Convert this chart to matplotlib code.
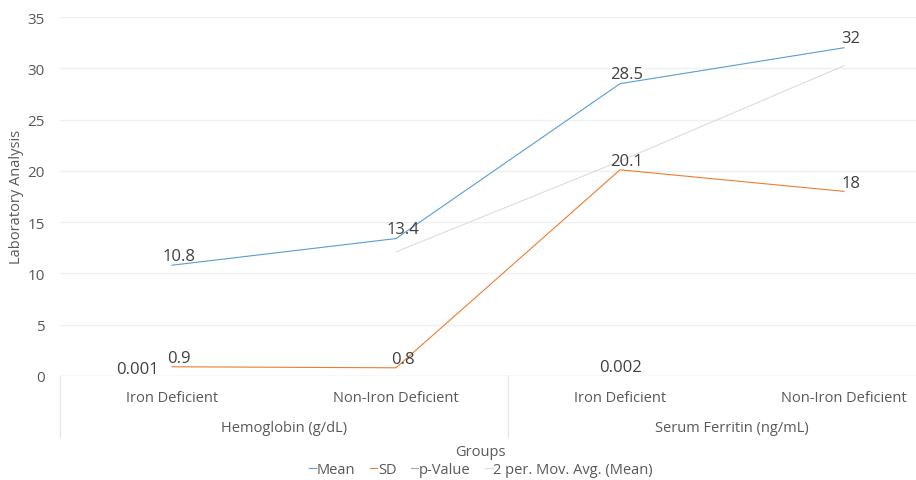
import matplotlib
matplotlib.use("Agg")
import matplotlib.pyplot as plt
import matplotlib.transforms as mtransforms
import numpy as np

plt.rcParams['font.family'] = ['Open Sans', 'DejaVu Sans']

categories = ["Iron Deficient", "Non-Iron Deficient", "Iron Deficient", "Non-Iron Deficient"]
groups = ["Hemoglobin (g/dL)", "Serum Ferritin (ng/mL)"]
mean = [10.8, 13.4, 28.5, 32]
sd = [0.9, 0.8, 20.1, 18]
pval = [0.001, np.nan, 0.002, np.nan]
yticks = [0, 5, 10, 15, 20, 25, 30, 35]

# 2-period moving average of Mean
mov_avg = [np.nan] + [(mean[i - 1] + mean[i]) / 2 for i in range(1, len(mean))]

W, H = 916, 481
fig = plt.figure(figsize=(W / 100, H / 100), dpi=100)
left_px, right_px, top_px, bot_px = 60, 956, 18, 377
ax = fig.add_axes([left_px / W, 1 - bot_px / H, (right_px - left_px) / W, (bot_px - top_px) / H])

x = np.arange(len(categories))
c_mean, c_sd, c_p, c_ma = "#5b9bd5", "#ed7d31", "#a5a5a5", "#dcdcdc"
txt = "#595959"
lab_col = "#404040"

ax.plot(x, mean, color=c_mean, lw=0.8, label="Mean", zorder=3)
ax.plot(x, sd, color=c_sd, lw=0.8, label="SD", zorder=3)
ax.plot(x, pval, color=c_p, lw=0.8, label="p-Value", zorder=3)
ax.plot(x, mov_avg, color=c_ma, lw=0.8, label="2 per. Mov. Avg. (Mean)", zorder=2)

ax.set_xlim(-0.5, len(categories) - 0.5)
ax.set_ylim(0, 35)
ax.set_yticks(yticks)
ax.tick_params(axis='y', length=0, labelsize=11, labelcolor=txt, pad=11)
ax.set_xticks([])
for s in ax.spines.values():
    s.set_visible(False)
ax.grid(axis='y', color="#f0f0f0", lw=1.0, zorder=0)
ax.axhline(0, color="#e6e6e6", lw=1.0, zorder=1)

# Data labels
lab_fs = 12
for i, v in enumerate(mean):
    ax.annotate(f"{v:g}", (x[i], v), xytext=(5, 1), textcoords="offset points",
                ha="center", va="bottom", fontsize=lab_fs, color=lab_col)
for i, v in enumerate(sd):
    ax.annotate(f"{v:g}", (x[i], v), xytext=(5, 0.5), textcoords="offset points",
                ha="center", va="bottom", fontsize=lab_fs, color=lab_col)
pv_offsets = [(-25, -1), None, (0, 1), None]
for i, v in enumerate(pval):
    if not np.isnan(v):
        ax.annotate(f"{v:g}", (x[i], v), xytext=pv_offsets[i], textcoords="offset points",
                    ha="center", va="bottom", fontsize=lab_fs, color=lab_col)

# Multi-level category axis
trans = mtransforms.blended_transform_factory(ax.transData, fig.transFigure)
def fy(px):
    return 1 - px / H
for i, c in enumerate(categories):
    fig.text(x[i], fy(398), c, transform=trans, ha="center", va="center",
             fontsize=10.5, color=txt)
for g, name in enumerate(groups):
    fig.text(2 * g + 0.5, fy(428), name, transform=trans, ha="center", va="center",
             fontsize=10.5, color=txt)
for xb in [-0.5, 1.5, 3.5]:
    fig.add_artist(plt.Line2D([xb, xb], [fy(377), fy(438)], transform=trans,
                              color="#e6e6e6", lw=1.0))

fig.text(480 / W, fy(452), "Groups", ha="center", va="center", fontsize=10.5, color=txt)
fig.text(17 / W, fy(197), "Laboratory Analysis", ha="center", va="center",
         rotation=90, fontsize=10.5, color=txt)

leg = fig.legend(loc="center", bbox_to_anchor=(481 / W, fy(471)), ncol=4, frameon=False,
                 handlelength=0.5, handletextpad=0.05, columnspacing=1.0,
                 fontsize=10.5, labelcolor=txt)

fig.savefig("out.png", dpi=100)
